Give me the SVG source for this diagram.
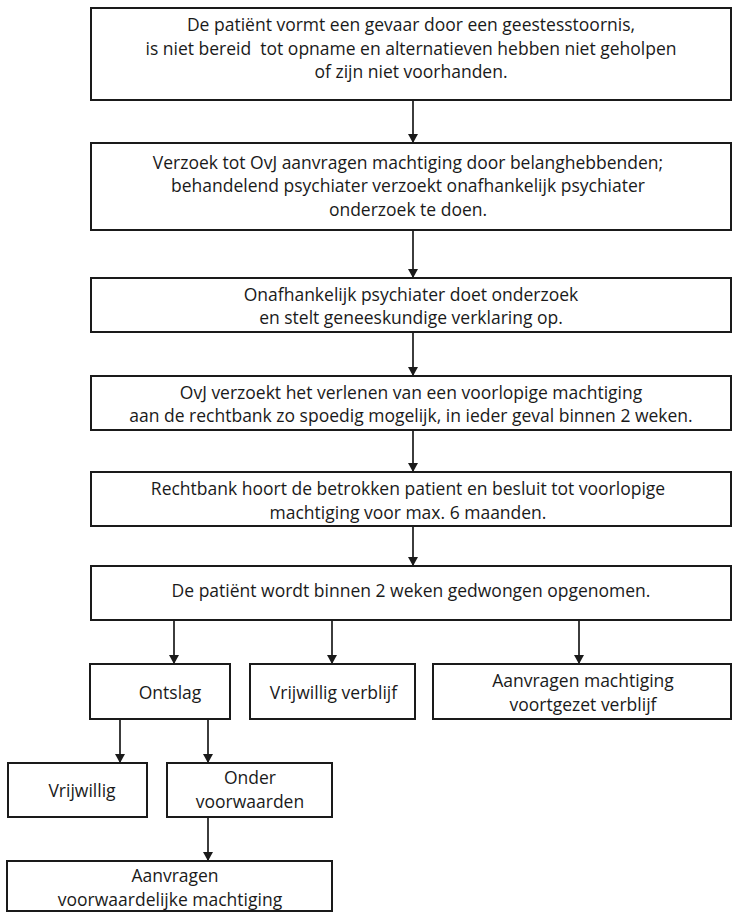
<svg xmlns="http://www.w3.org/2000/svg" width="732" height="912" viewBox="0 0 732 912">
<style>
.box{fill:#fff;stroke:#1a1a1a;stroke-width:2}
.t{font-family:"Open Sans","Noto Sans",sans-serif;font-size:17.5px;fill:#1a1a1a;text-anchor:middle;white-space:pre}
.c{stroke:#1a1a1a;stroke-width:1.7;fill:none}
</style>
<defs>
<marker id="ah" markerUnits="userSpaceOnUse" markerWidth="10" markerHeight="10" refX="9" refY="5" orient="auto">
<path d="M0,0 L9,5 L0,10 z" fill="#1a1a1a"/>
</marker>
</defs>
<rect width="732" height="912" fill="#fff"/>
<g id="connectors">
<line class="c" x1="413" y1="100" x2="413" y2="143" marker-end="url(#ah)"/>
<line class="c" x1="413" y1="230" x2="413" y2="278" marker-end="url(#ah)"/>
<line class="c" x1="413" y1="332" x2="413" y2="376" marker-end="url(#ah)"/>
<line class="c" x1="413" y1="430" x2="413" y2="472" marker-end="url(#ah)"/>
<line class="c" x1="413" y1="526" x2="413" y2="566" marker-end="url(#ah)"/>
<line class="c" x1="174" y1="620" x2="174" y2="664" marker-end="url(#ah)"/>
<line class="c" x1="332" y1="620" x2="332" y2="664" marker-end="url(#ah)"/>
<line class="c" x1="579" y1="620" x2="579" y2="664" marker-end="url(#ah)"/>
<line class="c" x1="120" y1="719" x2="120" y2="763" marker-end="url(#ah)"/>
<line class="c" x1="208" y1="719" x2="208" y2="763" marker-end="url(#ah)"/>
<line class="c" x1="208" y1="817" x2="208" y2="861" marker-end="url(#ah)"/>
</g>
<g id="n1">
<rect class="box" x="91" y="8" width="640" height="92"/>
<text class="t" x="411" y="31">De patiënt vormt een gevaar door een geestesstoornis,</text>
<text class="t" x="411" y="54.5">is niet bereid  tot opname en alternatieven hebben niet geholpen</text>
<text class="t" x="411" y="78">of zijn niet voorhanden.</text>
</g>
<g id="n2">
<rect class="box" x="91" y="143" width="640" height="87"/>
<text class="t" x="408" y="168.5">Verzoek tot OvJ aanvragen machtiging door belanghebbenden;</text>
<text class="t" x="408" y="192">behandelend psychiater verzoekt onafhankelijk psychiater</text>
<text class="t" x="408" y="215.5">onderzoek te doen.</text>
</g>
<g id="n3">
<rect class="box" x="91" y="278" width="640" height="54"/>
<text class="t" x="411" y="301">Onafhankelijk psychiater doet onderzoek</text>
<text class="t" x="411" y="324">en stelt geneeskundige verklaring op.</text>
</g>
<g id="n4">
<rect class="box" x="91" y="376" width="640" height="54"/>
<text class="t" x="411" y="399">OvJ verzoekt het verlenen van een voorlopige machtiging</text>
<text class="t" x="411" y="422">aan de rechtbank zo spoedig mogelijk, in ieder geval binnen 2 weken.</text>
</g>
<g id="n5">
<rect class="box" x="91" y="472" width="640" height="54"/>
<text class="t" x="408" y="495">Rechtbank hoort de betrokken patient en besluit tot voorlopige</text>
<text class="t" x="408" y="518.5">machtiging voor max. 6 maanden.</text>
</g>
<g id="n6">
<rect class="box" x="91" y="566" width="640" height="54"/>
<text class="t" x="411" y="597">De patiënt wordt binnen 2 weken gedwongen opgenomen.</text>
</g>
<g id="n7">
<rect class="box" x="90" y="664" width="140" height="55"/>
<text class="t" x="170" y="699">Ontslag</text>
</g>
<g id="n8">
<rect class="box" x="250" y="664" width="165" height="55"/>
<text class="t" x="333.5" y="699">Vrijwillig verblijf</text>
</g>
<g id="n9">
<rect class="box" x="433" y="664" width="298" height="55"/>
<text class="t" x="583" y="687">Aanvragen machtiging</text>
<text class="t" x="583" y="710.5">voortgezet verblijf</text>
</g>
<g id="n10">
<rect class="box" x="8" y="763" width="139" height="54"/>
<text class="t" x="82" y="797">Vrijwillig</text>
</g>
<g id="n11">
<rect class="box" x="167" y="763" width="165" height="54"/>
<text class="t" x="250" y="784">Onder</text>
<text class="t" x="250" y="807.5">voorwaarden</text>
</g>
<g id="n12">
<rect class="box" x="7" y="861" width="325" height="50"/>
<text class="t" x="175" y="882">Aanvragen</text>
<text class="t" x="170" y="905.5">voorwaardelijke machtiging</text>
</g>
</svg>
